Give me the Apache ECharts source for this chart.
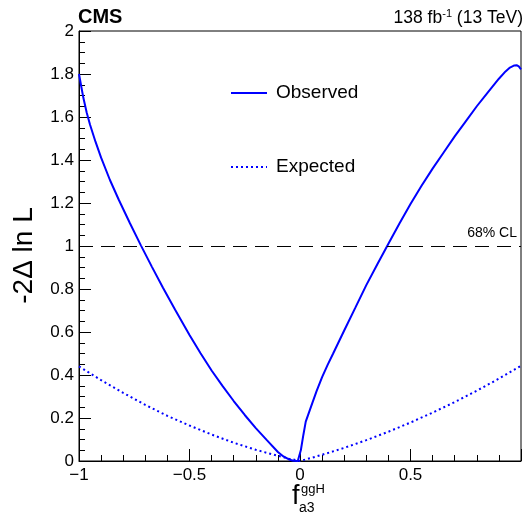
<!DOCTYPE html>
<html>
<head>
<meta charset="utf-8">
<script src="https://cdn.jsdelivr.net/npm/echarts@6/dist/echarts.min.js"></script>
<style>
html,body{margin:0;padding:0;background:#fff;}
#c{width:524px;height:518px;}
</style>
</head>
<body>
<div id="c"></div>
<script>
// Observed scan
const obsX = [-1.0, -0.995, -0.99, -0.98, -0.965, -0.95, -0.925, -0.9, -0.86, -0.82, -0.77, -0.72, -0.67, -0.62, -0.565, -0.5, -0.45, -0.4, -0.35, -0.3, -0.25, -0.2, -0.15, -0.1, -0.075, -0.05, -0.03, -0.01, 0.004, 0.015, 0.026, 0.056, 0.075, 0.1, 0.125, 0.15, 0.2, 0.25, 0.3, 0.35, 0.4, 0.45, 0.5, 0.55, 0.6, 0.65, 0.7, 0.75, 0.8, 0.85, 0.9, 0.93, 0.95, 0.97, 0.98, 0.99, 1.0];
const obsY = [1.80, 1.772, 1.743, 1.688, 1.62, 1.564, 1.484, 1.411, 1.307, 1.215, 1.107, 1.003, 0.903, 0.806, 0.703, 0.586, 0.501, 0.421, 0.348, 0.279, 0.214, 0.153, 0.097, 0.042, 0.021, 0.007, 0.001, 0.0, 0.051, 0.12, 0.183, 0.27, 0.325, 0.39, 0.447, 0.50, 0.607, 0.712, 0.818, 0.915, 1.01, 1.105, 1.195, 1.28, 1.36, 1.435, 1.51, 1.58, 1.65, 1.715, 1.778, 1.812, 1.830, 1.840, 1.841, 1.835, 1.822];
// Expected scan
const expX = [-1.0, -0.9, -0.8, -0.7, -0.6, -0.5, -0.4, -0.3, -0.2, -0.1, -0.05, 0.0, 0.05, 0.1, 0.2, 0.3, 0.4, 0.5, 0.6, 0.7, 0.8, 0.9, 1.0];
const expY = [0.440, 0.376, 0.317, 0.261, 0.210, 0.165, 0.123, 0.085, 0.052, 0.024, 0.011, 0.0, 0.014, 0.029, 0.061, 0.097, 0.136, 0.179, 0.225, 0.274, 0.327, 0.383, 0.443];
const clLevel = 1.0;
const seriesNames = ['Observed', 'Expected'];

const FONT = '"Liberation Sans", Arial, Helvetica, sans-serif';
const chart = echarts.init(document.getElementById('c'));
const zip = (xs, ys) => xs.map((x, i) => [x, ys[i]]);

chart.setOption({
  animation: false,
  backgroundColor: '#fff',
  grid: { left: 79, right: 0, top: 31, bottom: 57, show: true, borderColor: '#000', borderWidth: 1 },
  xAxis: {
    type: 'value', min: -1, max: 1, interval: 0.5,
    axisLine: { show: true, onZero: false, lineStyle: { color: '#000', width: 1 } },
    axisTick: { show: true, inside: true, length: 12, lineStyle: { color: '#000' } },
    minorTick: { show: true, splitNumber: 5, length: 6, lineStyle: { color: '#000' } },
    splitLine: { show: false },
    axisLabel: {
      margin: 6, fontFamily: FONT, fontSize: 17, color: '#000',
      formatter: v => v >= 1 ? '' : (v < 0 ? '\u2212' + Math.abs(v) : String(v))
    }
  },
  yAxis: {
    type: 'value', min: 0, max: 2, interval: 0.2,
    axisLine: { show: true, onZero: false, lineStyle: { color: '#000', width: 1 } },
    axisTick: { show: true, inside: true, length: 12, lineStyle: { color: '#000' } },
    minorTick: { show: true, splitNumber: 4, length: 6, lineStyle: { color: '#000' } },
    splitLine: { show: false },
    axisLabel: {
      margin: 5, fontFamily: FONT, fontSize: 17, color: '#000',
      formatter: v => String(Math.round(v * 10) / 10)
    }
  },
  legend: {
    orient: 'vertical', left: 230, top: 83, padding: 0, itemWidth: 36, itemHeight: 14, itemGap: 54,
    itemStyle: { opacity: 0 },
    textStyle: { fontFamily: FONT, fontSize: 19, color: '#000', lineHeight: 20, padding: [0, 0, 0, 4] },
    data: seriesNames
  },
  series: [
    {
      name: seriesNames[0], type: 'line', data: zip(obsX, obsY), symbol: 'none',
      lineStyle: { color: '#0000ff', width: 2 }, itemStyle: { color: '#0000ff' },
      markLine: {
        silent: true, symbol: 'none', label: { show: false },
        lineStyle: { color: '#000', width: 1, type: [14, 8] },
        data: [{ yAxis: clLevel }]
      }
    },
    {
      name: seriesNames[1], type: 'line', data: zip(expX, expY), symbol: 'none',
      lineStyle: { color: '#0000ff', width: 2, type: [2, 3] }, itemStyle: { color: '#0000ff' }
    }
  ],
  graphic: [
    { type: 'text', left: 78, top: 7, style: { text: 'CMS', font: 'bold 20px ' + FONT, fill: '#000' } },
    { type: 'text', x: 523, y: 18.5, style: {
        text: '{n|138 fb}{s|-1}{n| (13 TeV)}', align: 'right', verticalAlign: 'middle',
        rich: { n: { fontFamily: FONT, fontSize: 17.5, lineHeight: 20, fill: '#000', verticalAlign: 'middle' },
                s: { fontFamily: FONT, fontSize: 11, fill: '#000', verticalAlign: 'top' } } } },
    { type: 'text', x: 24, y: 255.5, rotation: Math.PI / 2, style: {
        text: '-2\u0394 ln L', font: '28px ' + FONT, fill: '#000', align: 'center', verticalAlign: 'middle' } },
    { type: 'text', x: 517, y: 233.5, style: {
        text: '68% CL', font: '14px ' + FONT, fill: '#000', align: 'right', verticalAlign: 'middle' } },
    { type: 'text', x: 292, y: 497, style: { text: 'f', font: '27px ' + FONT, fill: '#000', align: 'left', verticalAlign: 'middle' } },
    { type: 'text', x: 301, y: 489, style: { text: 'ggH', font: '13px ' + FONT, fill: '#000', align: 'left', verticalAlign: 'middle' } },
    { type: 'text', x: 299, y: 508, style: { text: 'a3', font: '14px ' + FONT, fill: '#000', align: 'left', verticalAlign: 'middle' } }
  ]
});
</script>
</body>
</html>
